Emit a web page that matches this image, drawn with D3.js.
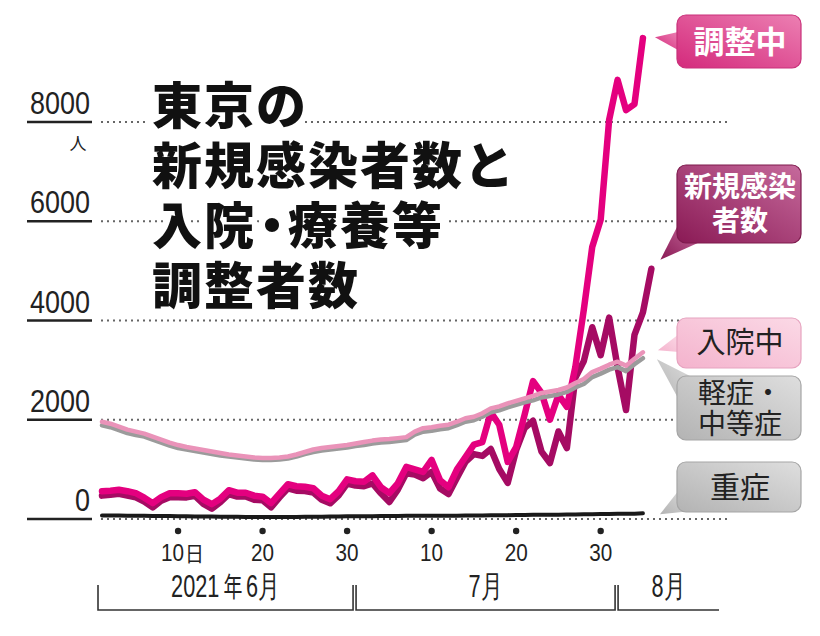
<!DOCTYPE html>
<html>
<head>
<meta charset="utf-8">
<script src="https://cdn.jsdelivr.net/npm/d3@7"></script>
<style>
  body { margin: 0; background: #fff; }
  svg { display: block; }
</style>
</head>
<body>
<svg id="chart" width="820" height="636"></svg>
<script>
// daily values, first entry = 2021-06-01
const startDate = new Date(2021, 5, 1);

const newCases = [
  471, 487, 508, 472, 436, 351, 235, 369, 440, 439, 435, 467, 304, 209, 337,
  501, 452, 453, 388, 376, 236, 435, 619, 570, 562, 534, 386, 317, 476, 714,
  673, 660, 716, 518, 342, 593, 920, 896, 822, 950, 614, 502, 830, 1149, 1308,
  1271, 1410, 1008, 727, 1387, 1832, 1979, 1359, 1128, 1763, 1429, 2848, 3177, 3865, 3300,
  4058, 3058, 2195, 3709, 4166, 5042
];
const adjusting = [
  560, 570, 590, 560, 520, 430, 320, 440, 520, 520, 510, 540, 390, 300, 410,
  580, 530, 530, 470, 450, 320, 510, 700, 660, 650, 620, 470, 400, 560, 800,
  760, 750, 880, 640, 520, 720, 1050, 1000, 950, 1190, 780, 640, 1000, 1250, 1500,
  1550, 2150, 1900, 1150, 1450, 2100, 2780, 2540, 2000, 2500, 2260, 3060, 4210, 5480, 6030,
  8040, 8850, 8240, 8360, 9690
];
const hospitalized = [
  1960, 1920, 1860, 1800, 1760, 1720, 1660, 1600, 1540, 1490,
  1450, 1420, 1390, 1360, 1330, 1300, 1280, 1260, 1240, 1230,
  1230, 1240, 1260, 1300, 1350, 1400, 1430, 1450, 1470, 1490,
  1520, 1550, 1580, 1600, 1610, 1630, 1650, 1760, 1830, 1850,
  1880, 1900, 1960, 2030, 2060, 2130, 2230, 2270, 2330, 2380,
  2430, 2480, 2540, 2570, 2600, 2650, 2740, 2820, 2960, 3030,
  3110, 3170, 3090, 3230, 3360
];
const mildModerate = [
  1890, 1850, 1790, 1730, 1690, 1660, 1600, 1540, 1480, 1430,
  1400, 1370, 1340, 1310, 1280, 1260, 1240, 1220, 1200, 1190,
  1190, 1200, 1220, 1260, 1310, 1350, 1380, 1400, 1420, 1440,
  1470, 1490, 1520, 1540, 1550, 1570, 1590, 1700, 1760, 1780,
  1810, 1830, 1890, 1960, 1990, 2060, 2150, 2190, 2250, 2300,
  2350, 2390, 2450, 2480, 2510, 2560, 2650, 2720, 2860, 2930,
  3010, 3060, 2980, 3120, 3240
];
const severe = [
  72, 71, 70, 68, 66, 63, 61, 60, 58, 56, 54, 52, 50, 48, 46,
  45, 44, 42, 41, 40, 40, 40, 41, 42, 43, 45, 47, 48, 50, 54,
  54, 55, 55, 58, 60, 62, 64, 64, 65, 66, 66, 66, 68, 69, 70,
  72, 74, 76, 78, 80, 82, 84, 84, 86, 88, 90, 92, 95, 97, 100,
  103, 104, 106, 108, 115
];

const yTicks = [0, 2000, 4000, 6000, 8000];
const dayTicks = [
  { date: new Date(2021, 5, 10), label: "10", suffix: "日" },
  { date: new Date(2021, 5, 20), label: "20" },
  { date: new Date(2021, 5, 30), label: "30" },
  { date: new Date(2021, 6, 10), label: "10" },
  { date: new Date(2021, 6, 20), label: "20" },
  { date: new Date(2021, 6, 30), label: "30" }
];
const months = [
  { start: new Date(2021, 5, 1), end: new Date(2021, 6, 1), parts: ["2021", "年", "6月"] },
  { start: new Date(2021, 6, 1), end: new Date(2021, 7, 1), parts: ["7月"] },
  { start: new Date(2021, 7, 1), end: new Date(2021, 7, 13), parts: ["8月"] }
];
const titleLines = [["東京の"], ["新規感染者数と"], ["入院", "・", "療養等"], ["調整者数"]];

const numFont = "'Liberation Sans','Arial',sans-serif";
const jpFont = "'Noto Sans CJK JP','Noto Sans',sans-serif";

const svg = d3.select("#chart");
const defs = svg.append("defs");

const x = d3.scaleTime()
    .domain([startDate, new Date(2021, 7, 13)])
    .range([102, 719]);
const y = d3.scaleLinear()
    .domain([0, 8000])
    .range([519, 122]);

const dateOf = i => d3.timeDay.offset(startDate, i);

// grid + y labels
const gy = svg.append("g");
yTicks.forEach(v => {
  gy.append("line")
      .attr("x1", 27).attr("x2", 92)
      .attr("y1", y(v)).attr("y2", y(v))
      .attr("stroke", "#222").attr("stroke-width", 2.5);
  gy.append("line")
      .attr("x1", 101).attr("x2", 727)
      .attr("y1", y(v)).attr("y2", y(v))
      .attr("stroke", "#666").attr("stroke-width", 2)
      .attr("stroke-dasharray", "2,4");
  gy.append("text")
      .attr("transform", `translate(90,${y(v) - 8}) scale(0.87,1)`)
      .attr("text-anchor", "end")
      .attr("font-family", numFont).attr("font-size", 31)
      .attr("fill", "#222")
      .text(v);
});
gy.append("text")
    .attr("x", 78).attr("y", y(8000) + 28)
    .attr("text-anchor", "middle")
    .attr("font-family", jpFont).attr("font-size", 17)
    .attr("fill", "#222")
    .text("人");

// title with white halo
const title = svg.append("text")
    .attr("font-family", jpFont).attr("font-weight", 900)
    .attr("font-size", 50).attr("letter-spacing", 2)
    .attr("fill", "#111")
    .attr("stroke", "#fff").attr("stroke-width", 12)
    .attr("stroke-linejoin", "round")
    .attr("paint-order", "stroke");
titleLines.forEach((parts, i) => {
  parts.forEach((p, j) => {
    const sp = title.append("tspan").text(p);
    if (j === 0) sp.attr("x", 152).attr("y", 124 + i * 60);
    if (p === "・") sp.attr("dx", -9).attr("letter-spacing", -9);
  });
});

// x axis
const gx = svg.append("g");
dayTicks.forEach(d => {
  gx.append("circle")
      .attr("cx", x(d.date)).attr("cy", 531).attr("r", 3.2)
      .attr("fill", "#222");
  const t = gx.append("text")
      .attr("font-family", numFont).attr("font-size", 23)
      .attr("fill", "#222");
  if (d.suffix) {
    t.attr("transform", `translate(${x(d.date) - 17},561) scale(0.9,1)`).attr("text-anchor", "start");
    t.append("tspan").text(d.label);
    t.append("tspan").attr("font-family", jpFont).attr("font-size", 21).attr("dx", 1).text(d.suffix);
  } else {
    t.attr("transform", `translate(${x(d.date)},561) scale(0.9,1)`)
        .attr("text-anchor", "middle").text(d.label);
  }
});

months.forEach((m, i) => {
  const x0 = x(m.start) - (i === 0 ? 4 : -0.5);
  const x1 = i === months.length - 1 ? x(m.end) : x(m.end) - 2.5;
  gx.append("path")
      .attr("d", `M${x0},585V610H${x1}` + (i === months.length - 1 ? "" : "V585"))
      .attr("fill", "none").attr("stroke", "#333").attr("stroke-width", 1.6);
  const t = gx.append("text")
      .attr("transform", `translate(${(x0 + x1) / 2},597) scale(0.7,1)`)
      .attr("text-anchor", "middle")
      .attr("font-family", numFont).attr("font-size", 31)
      .attr("fill", "#222");
  m.parts.forEach(p => {
    const sp = t.append("tspan").text(p);
    if (p === "年") sp.attr("font-family", jpFont).attr("font-size", 27).attr("dx", 6);
    if (p === "6月") sp.attr("dx", 5);
  });
});

// lines
const line = d3.line()
    .x((d, i) => x(dateOf(i)))
    .y(d => y(d))
    .curve(d3.curveLinear);

const series = [
  { data: severe, color: "#1a1a1a", width: 4 },
  { data: newCases, color: "#a50b63", width: 6.5 },
  { data: adjusting, color: "#e4007f", width: 6.5 },
  { data: mildModerate, color: "#9b9b9b", width: 4.5 },
  { data: hospitalized, color: "#ea93b9", width: 4.5 }
];
series.forEach(s => {
  svg.append("path")
      .attr("d", line(s.data))
      .attr("fill", "none")
      .attr("stroke", s.color)
      .attr("stroke-width", s.width)
      .attr("stroke-linejoin", "round")
      .attr("stroke-linecap", "round");
});

// callout boxes
function grad(id, c0, c1) {
  const g = defs.append("linearGradient").attr("id", id)
      .attr("x1", "0").attr("y1", "1").attr("x2", "1").attr("y2", "0");
  g.append("stop").attr("offset", "0").attr("stop-color", c0);
  g.append("stop").attr("offset", "1").attr("stop-color", c1);
}
grad("gAdj", "#d42a7c", "#ec7fb2");
grad("gNew", "#8a1a55", "#c66a9c");
grad("gHosp", "#f4b3cd", "#fbd9e6");
grad("gGray", "#b3b3b3", "#dedede");

const lastPt = arr => [x(dateOf(arr.length - 1)), y(arr[arr.length - 1])];

const callouts = [
  { lines: ["調整中"], top: 15, h: 53, fill: "url(#gAdj)", stroke: "#c9317a", text: "#fff", weight: 700, size: 31, lh: 0,
    tip: [lastPt(adjusting)[0] + 12, lastPt(adjusting)[1] - 1], base: [[678, 32], [678, 50]] },
  { lines: ["新規感染", "者数"], top: 165, h: 78, fill: "url(#gNew)", stroke: "#7e1a4d", text: "#fff", weight: 700, size: 28, lh: 34,
    tip: [lastPt(newCases)[0] + 9, lastPt(newCases)[1] - 9], base: [[678, 225], [700, 242]] },
  { lines: ["入院中"], top: 318, h: 50, fill: "url(#gHosp)", stroke: "#e6a3bf", text: "#222", weight: 400, size: 29, lh: 0,
    tip: [lastPt(hospitalized)[0] + 15, lastPt(hospitalized)[1] - 2], base: [[679, 334], [679, 352]] },
  { lines: ["軽症・", "中等症"], top: 376, h: 64, fill: "url(#gGray)", stroke: "#a5a5a5", text: "#222", weight: 400, size: 28, lh: 31,
    tip: [lastPt(mildModerate)[0] + 14, lastPt(mildModerate)[1] + 1], base: [[692, 377], [679, 400]] },
  { lines: ["重症"], top: 462, h: 50, fill: "url(#gGray)", stroke: "#a5a5a5", text: "#222", weight: 400, size: 30, lh: 0,
    tip: [lastPt(severe)[0] + 17, lastPt(severe)[1] + 1], base: [[679, 490], [692, 511]] }
];

callouts.forEach(c => {
  const g = svg.append("g");
  g.append("path")
      .attr("d", `M${c.tip[0]},${c.tip[1]}L${c.base[0][0]},${c.base[0][1]}L${c.base[1][0]},${c.base[1][1]}Z`)
      .attr("fill", c.fill);
  g.append("rect")
      .attr("x", 677).attr("y", c.top)
      .attr("width", 124).attr("height", c.h)
      .attr("rx", 9)
      .attr("fill", c.fill)
      .attr("stroke", c.stroke).attr("stroke-width", 1.2);
  const cy = c.top + c.h / 2 - (c.lines.length - 1) * c.lh / 2;
  c.lines.forEach((t, i) => {
    g.append("text")
        .attr("x", 740).attr("y", cy + i * c.lh)
        .attr("dy", "0.36em")
        .attr("text-anchor", "middle")
        .attr("font-family", jpFont).attr("font-weight", c.weight)
        .attr("font-size", c.size)
        .attr("fill", c.text)
        .text(t);
  });
});
</script>
</body>
</html>
